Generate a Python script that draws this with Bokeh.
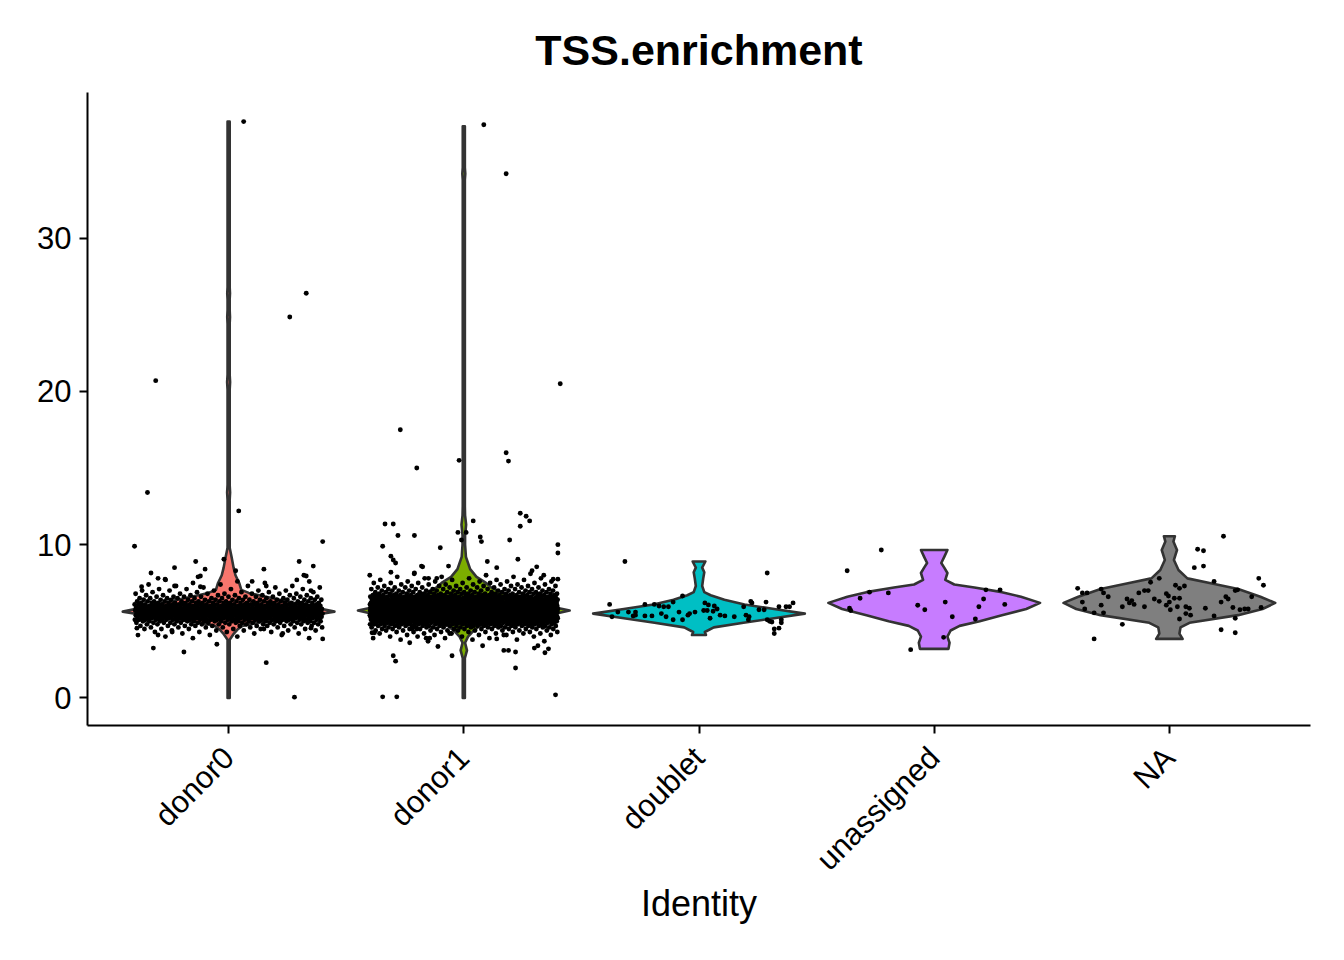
import numpy as np
from bokeh.plotting import figure
from bokeh.models import FixedTicker
from bokeh.embed import file_html
from bokeh.resources import INLINE

idents = ["donor0", "donor1", "doublet", "unassigned", "NA"]
colors = ["#F8766D", "#7CAE00", "#00BFC4", "#C77CFF", "#7F7F7F"]

# violin outlines: y value and relative half width (1 = widest)
vy_donor0 = [0.0, 3.8, 4.2, 4.5, 4.7, 4.9, 5.1, 5.35, 5.63, 5.85, 6.05, 6.45, 6.85, 7.05, 7.5, 8.0, 8.5,
             9.2, 9.8, 12.9, 13.4, 13.9, 20.1, 20.6, 21.1, 24.4, 24.85, 25.3, 26.0, 26.4, 26.8, 37.6]
vw_donor0 = [0.01, 0.01, 0.05, 0.09, 0.13, 0.27, 0.5, 0.75, 1.0, 0.85, 0.72, 0.45, 0.19, 0.12, 0.1, 0.065, 0.047,
             0.028, 0.01, 0.01, 0.014, 0.01, 0.01, 0.014, 0.01, 0.01, 0.013, 0.01, 0.01, 0.013, 0.01, 0.01]

vy_donor1 = [0.0, 2.6, 3.1, 3.6, 4.0, 4.3, 4.65, 4.95, 5.3, 5.7, 6.0, 6.4, 6.8, 7.2, 7.5, 7.9, 8.4, 9.2,
             10.0, 10.6, 11.3, 11.9, 12.5, 33.8, 34.2, 34.6, 37.3]
vw_donor1 = [0.01, 0.01, 0.03, 0.012, 0.04, 0.08, 0.14, 0.27, 0.74, 1.0, 0.8, 0.55, 0.38, 0.26, 0.21, 0.12, 0.06,
             0.02, 0.012, 0.012, 0.022, 0.012, 0.01, 0.01, 0.014, 0.01, 0.01]

vy_doublet = [4.1, 4.3, 4.6, 4.9, 5.2, 5.5, 5.8, 6.1, 6.4, 6.7, 6.9, 7.3, 7.8, 8.2, 8.5, 8.9]
vw_doublet = [0.066, 0.055, 0.14, 0.42, 0.71, 1.0, 0.71, 0.43, 0.24, 0.11, 0.05, 0.03, 0.04, 0.05, 0.03, 0.06]

vy_unassigned = [3.2, 3.6, 4.0, 4.4, 4.7, 5.0, 5.4, 5.8, 6.2, 6.6, 6.9, 7.2, 7.4, 7.7, 8.15, 8.5, 8.8, 9.2, 9.65]
vw_unassigned = [0.135, 0.145, 0.125, 0.155, 0.24, 0.43, 0.64, 0.87, 1.0, 0.82, 0.64, 0.38, 0.19, 0.105, 0.125,
                 0.095, 0.067, 0.095, 0.125]

vy_na = [3.85, 4.2, 4.6, 4.9, 5.4, 5.8, 6.2, 6.6, 7.1, 7.5, 7.8, 8.35, 9.0, 9.65, 10.2, 10.55]
vw_na = [0.125, 0.095, 0.105, 0.19, 0.65, 0.88, 1.0, 0.86, 0.65, 0.38, 0.17, 0.086, 0.043, 0.072, 0.038, 0.052]

# dense core of donor0 / donor1: cell counts per 0.1 step of TSS.enrichment
core_y_donor0 = [3.9, 4.0, 4.1, 4.2, 4.3, 4.4, 4.5, 4.6, 4.7, 4.8, 4.9, 5.0, 5.1, 5.2, 5.3, 5.4, 5.5, 5.6, 5.7,
                 5.8, 5.9, 6.0, 6.1, 6.2, 6.3, 6.4, 6.5, 6.6, 6.7, 6.8, 6.9, 7.0, 7.1, 7.2, 7.3, 7.4, 7.5, 7.6, 7.7]
core_n_donor0 = [2, 2, 3, 3, 4, 5, 6, 8, 10, 13, 16, 20, 25, 30, 37, 43, 47, 48, 45,
                 40, 35, 30, 25, 21, 17, 15, 12, 10, 8, 7, 5, 5, 4, 3, 3, 2, 2, 2, 1]

core_y_donor1 = [3.7, 3.8, 3.9, 4.0, 4.1, 4.2, 4.3, 4.4, 4.5, 4.6, 4.7, 4.8, 4.9, 5.0, 5.1, 5.2, 5.3, 5.4, 5.5,
                 5.6, 5.7, 5.8, 5.9, 6.0, 6.1, 6.2, 6.3, 6.4, 6.5, 6.6, 6.7, 6.8, 6.9, 7.0, 7.1, 7.2, 7.3, 7.4,
                 7.5, 7.6, 7.7, 7.8, 7.9, 8.0, 8.1]
core_n_donor1 = [2, 3, 3, 4, 5, 6, 8, 10, 13, 16, 22, 28, 36, 45, 58, 70, 85, 95, 105,
                 108, 105, 95, 85, 75, 64, 55, 46, 40, 33, 29, 24, 20, 16, 14, 11, 10, 8, 7,
                 6, 5, 4, 3, 3, 2, 2]

# single cells outside the cores: (jitter, value)
pts_donor0 = [(0.064, 37.6), (0.26, 24.85), (0.33, 26.4), (-0.31, 20.7), (-0.345, 13.4), (0.043, 12.2),
              (-0.40, 9.9), (0.40, 10.2), (0.28, 0.05), (0.16, 2.3), (-0.19, 3.0), (-0.32, 3.25), (-0.05, 3.5),
              (0.40, 3.85), (-0.30, 4.1), (-0.14, 8.9), (-0.23, 8.5), (0.30, 8.9), (0.36, 8.6), (0.15, 8.4),
              (-0.10, 8.4), (-0.33, 8.15), (0.03, 8.3), (-0.02, 9.05), (-0.13, 7.9), (-0.12, 7.95), (-0.30, 7.8),
              (-0.27, 7.75), (0.32, 8.0), (0.33, 7.95), (0.10, 7.6), (-0.37, 7.25), (-0.23, 7.3), (0.29, 7.7),
              (0.16, 7.3), (-0.12, 7.25), (0.35, 7.0), (0.23, 4.2), (-0.24, 4.3), (-0.39, 4.55), (0.35, 4.55),
              (0.15, 4.5)]
pts_donor1 = [(0.085, 37.4), (0.18, 34.2), (0.41, 20.5), (-0.27, 17.5), (-0.20, 15.0), (-0.02, 15.5), (0.18, 16.0),
              (0.19, 15.45), (-0.345, 0.07), (-0.285, 0.07), (0.39, 0.2), (-0.335, 11.35), (-0.30, 11.35),
              (-0.28, 10.6), (-0.21, 10.6), (-0.345, 9.9), (-0.10, 9.8), (0.04, 11.55), (-0.025, 10.8),
              (0.01, 10.8), (-0.01, 10.3), (0.07, 10.5), (0.075, 10.2), (0.195, 10.3), (0.24, 12.05),
              (0.265, 11.85), (0.24, 11.2), (0.28, 11.55), (0.40, 10.0), (0.40, 9.45), (-0.30, 9.0), (-0.29, 8.8),
              (-0.31, 9.25), (-0.18, 8.6), (-0.175, 8.55), (0.10, 8.9), (0.14, 8.5), (0.23, 9.05), (-0.065, 8.6),
              (-0.21, 8.15), (-0.31, 8.2), (-0.15, 7.8), (-0.115, 7.8), (0.29, 8.3), (0.31, 8.55), (0.34, 8.0),
              (0.38, 7.75), (0.40, 7.75), (-0.39, 4.25), (-0.38, 4.25), (-0.30, 2.75), (-0.29, 2.4), (-0.23, 3.6),
              (-0.11, 3.35), (-0.05, 2.75), (-0.06, 4.2), (0.08, 3.4), (0.17, 3.1), (0.19, 3.1), (0.22, 1.95),
              (0.22, 3.0), (0.30, 3.25), (0.315, 3.4), (0.345, 2.95), (0.36, 3.2), (0.14, 3.85), (0.17, 4.1),
              (-0.16, 3.9), (-0.145, 3.9), (-0.20, 4.5), (-0.22, 4.5)]
pts_doublet = [(-0.315, 8.9), (0.29, 8.15), (-0.38, 6.1), (-0.07, 6.65), (-0.23, 6.1), (0.22, 6.3), (0.225, 6.2),
               (0.285, 6.25), (0.40, 6.2), (0.37, 5.95), (0.34, 5.95), (0.385, 5.95), (0.19, 5.95), (-0.11, 6.25),
               (-0.19, 6.1), (-0.17, 6.0), (-0.15, 5.95), (-0.13, 5.95), (0.025, 6.2), (0.04, 6.07), (0.065, 6.0),
               (0.077, 5.8), (0.02, 5.7), (0.035, 5.7), (0.06, 5.65), (-0.085, 5.6), (-0.04, 5.5), (-0.017, 5.6),
               (-0.345, 5.6), (-0.30, 5.6), (-0.27, 5.6), (-0.37, 5.3), (-0.28, 5.35), (-0.27, 5.4), (-0.23, 5.35),
               (-0.20, 5.35), (-0.16, 5.5), (-0.14, 5.3), (-0.11, 5.1), (-0.07, 5.1), (-0.047, 5.4), (0.047, 5.2),
               (0.09, 5.4), (0.11, 5.35), (0.15, 5.3), (0.20, 5.4), (0.213, 5.3), (0.255, 5.75), (0.277, 5.75),
               (0.21, 5.1), (0.29, 5.1), (0.30, 5.0), (0.31, 4.95), (0.35, 5.1), (0.35, 4.9), (0.32, 4.5),
               (0.34, 4.55), (0.32, 4.2)]
pts_unassigned = [(-0.225, 9.65), (-0.37, 8.3), (-0.315, 6.5), (-0.275, 6.9), (-0.195, 6.85), (-0.36, 5.85),
                  (-0.355, 5.7), (-0.07, 6.05), (-0.04, 5.75), (0.047, 6.25), (0.077, 5.3), (0.04, 3.95),
                  (-0.10, 3.15), (0.175, 5.15), (0.19, 5.95), (0.21, 6.45), (0.22, 7.05), (0.28, 7.05), (0.30, 6.1)]
pts_na = [(0.23, 10.55), (0.12, 9.7), (0.145, 9.6), (0.106, 8.5), (0.145, 8.6), (0.19, 7.6), (0.38, 7.8),
          (0.40, 7.35), (-0.08, 7.55), (-0.043, 7.8), (-0.39, 7.15), (-0.37, 6.85), (-0.35, 6.85), (-0.29, 7.1),
          (-0.28, 6.85), (-0.26, 6.6), (-0.13, 6.85), (-0.106, 7.0), (-0.09, 7.0), (0.026, 7.35), (0.043, 7.15),
          (0.064, 7.3), (-0.013, 6.8), (-0.004, 6.65), (0.021, 6.5), (0.043, 6.5), (-0.18, 6.45), (-0.16, 6.35),
          (-0.17, 6.2), (-0.15, 6.1), (-0.064, 6.45), (-0.043, 6.3), (0.28, 7.0), (0.29, 7.05), (0.24, 6.6),
          (0.25, 6.45), (0.22, 6.25), (0.35, 6.6), (-0.013, 6.05), (0.0, 6.25), (0.034, 5.95), (-0.37, 6.25),
          (-0.29, 6.05), (-0.20, 5.95), (-0.106, 5.95), (0.004, 5.75), (0.07, 5.95), (0.085, 5.85),
          (0.153, 5.85), (0.27, 5.9), (0.30, 5.75), (0.32, 5.8), (0.335, 5.8), (0.39, 5.9), (-0.36, 5.8),
          (-0.32, 5.55), (-0.28, 5.55), (0.07, 5.5), (0.09, 5.4), (0.043, 5.15), (0.19, 5.35), (0.28, 5.2),
          (-0.20, 4.8), (0.22, 4.45), (0.28, 4.25), (-0.32, 3.85)]

violins = [(vy_donor0, vw_donor0), (vy_donor1, vw_donor1), (vy_doublet, vw_doublet),
           (vy_unassigned, vw_unassigned), (vy_na, vw_na)]
cores = [(core_y_donor0, core_n_donor0), (core_y_donor1, core_n_donor1), ([], []), ([], []), ([], [])]
singles = [pts_donor0, pts_donor1, pts_doublet, pts_unassigned, pts_na]

FONT = "Liberation Sans"
HALF = 0.45  # violin width 0.9 of a category
JIT = 0.4

p = figure(width=1328, height=944, x_range=(0.4, 5.6), y_range=(-1.8, 39.5),
           output_backend="svg", toolbar_location=None,
           min_border_left=87, min_border_right=18, min_border_top=92, min_border_bottom=219)
p.grid.visible = False
p.outline_line_color = None
p.background_fill_color = "white"

# violins
for i, (vy, vw) in enumerate(violins):
    c = i + 1
    vy = np.array(vy)
    vw = np.array(vw) * HALF
    xs = np.concatenate([c + vw, (c - vw)[::-1]])
    ys = np.concatenate([vy, vy[::-1]])
    p.patch(xs, ys, fill_color=colors[i], line_color="#333333", line_width=2.6, line_join="round")

# jittered points
px, py = [], []
for i in range(len(idents)):
    c = i + 1
    ys = np.repeat(cores[i][0], cores[i][1]) if cores[i][0] else np.array([])
    k = np.arange(len(ys))
    jit = ((k * 0.6180339887 + 0.31) % 1.0 - 0.5) * 2 * JIT
    px.extend(c + jit)
    py.extend(ys)
    for dx, y in singles[i]:
        px.append(c + dx)
        py.append(y)
p.scatter(px, py, size=4.9, color="black", line_width=0)

# axes
p.xaxis.ticker = FixedTicker(ticks=[1, 2, 3, 4, 5])
p.xaxis.major_label_overrides = {i + 1: name for i, name in enumerate(idents)}
p.xaxis.major_label_orientation = np.pi / 4
p.yaxis.ticker = FixedTicker(ticks=[0, 10, 20, 30])
p.axis.minor_tick_line_color = None
p.axis.major_tick_in = 0
p.axis.major_tick_out = 8
p.axis.major_tick_line_width = 2
p.axis.axis_line_width = 2
p.axis.axis_line_color = "black"
p.axis.major_tick_line_color = "black"
p.axis.major_label_text_font = FONT
p.axis.major_label_text_font_size = "31px"
p.axis.major_label_text_color = "black"
p.yaxis.major_label_standoff = 8
p.xaxis.major_label_standoff = 19
p.xaxis.axis_label = "Identity"
p.xaxis.axis_label_text_font = FONT
p.xaxis.axis_label_text_font_size = "36px"
p.xaxis.axis_label_text_font_style = "normal"
p.xaxis.axis_label_text_color = "black"
p.xaxis.axis_label_standoff = -9

p.title.text = "TSS.enrichment"
p.title.align = "center"
p.title.text_font = FONT
p.title.text_font_size = "43px"
p.title.text_font_style = "bold"
p.title.text_color = "black"
p.title.standoff = 38

open("out.html", "w").write(file_html(p, INLINE))
